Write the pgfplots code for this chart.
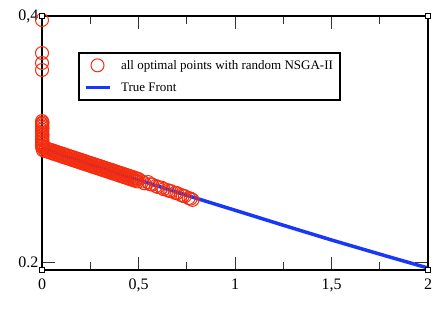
\documentclass[border=0pt]{standalone}
\usepackage{fontspec}
\setmainfont{Liberation Serif}
\usepackage{pgfplots}
\pgfplotsset{compat=1.18}
\definecolor{redc}{RGB}{245,45,15}
\definecolor{bluec}{RGB}{25,55,250}
\pgfplotsset{
  legA/.style={legend image code/.code={\draw[##1] plot coordinates {(12pt,0pt)};}},
  legB/.style={legend image code/.code={\draw[##1, line width=3pt] (0pt,0pt) -- (24pt,0pt);}},
}
\begin{document}
\begin{tikzpicture}
\path[use as bounding box] (-42pt,-38pt) rectangle (399pt,270pt);
\begin{axis}[
 at={(0pt,0pt)}, anchor=south west,
 scale only axis, width=386pt, height=254pt,
 xmin=0, xmax=2, ymin=0.1935, ymax=0.4,
 clip=false, axis on top,
 axis line style={line width=2.2pt},
 xtick={0,0.5,1,1.5,2}, xticklabels={0,{0,5},1,{1,5},2},
 minor xtick={0.25,0.75,1.25,1.75},
 ytick={0.2,0.4}, yticklabels={0.2,{0,4}},
 tick align=inside,
 major tick length=13pt, minor tick length=8pt,
 tick style={black!80, line width=0.8pt},
 ticklabel style={font=\fontsize{16}{16}\selectfont},
 xticklabel style={yshift=-5pt},
 /pgf/number format/assume math mode=true,
 legend style={at={(0.0933,0.858)}, anchor=north west, draw=black, line width=2pt,
   font=\fontsize{13}{15}\selectfont, inner xsep=5pt, inner ysep=5pt, row sep=8pt, column sep=8pt},
 legend cell align=left,
]
\addplot[only marks, mark=o, mark size=6.5pt, mark options={draw=redc, line width=1pt}, legA] coordinates {
(0,0.3967)(0,0.3699)(0,0.3618)(0,0.3561)
(0,0.3146)(0.003,0.3135)(0,0.3124)(0.002,0.3113)(0,0.3102)(0.003,0.3089)
(0,0.3076)(0.002,0.3063)(0,0.3050)(0.003,0.3037)(0,0.3024)(0.002,0.3011)(0,0.2998)(0.003,0.2985)
(0,0.2972)(0.002,0.2959)(0,0.2946)
(0.00,0.2935)(0.01,0.2930)(0.02,0.2925)(0.03,0.2919)(0.04,0.2914)(0.05,0.2909)(0.06,0.2904)
(0.07,0.2899)(0.08,0.2893)(0.09,0.2888)(0.10,0.2883)(0.11,0.2878)(0.12,0.2873)(0.13,0.2867)
(0.14,0.2862)(0.15,0.2857)(0.16,0.2852)(0.17,0.2847)(0.18,0.2841)(0.19,0.2836)(0.20,0.2831)
(0.21,0.2826)(0.22,0.2821)(0.23,0.2815)(0.24,0.2810)(0.25,0.2805)(0.26,0.2800)(0.27,0.2795)
(0.28,0.2789)(0.29,0.2784)(0.30,0.2779)(0.31,0.2774)(0.32,0.2769)(0.33,0.2763)(0.34,0.2758)
(0.35,0.2753)(0.36,0.2748)(0.37,0.2743)(0.38,0.2737)(0.39,0.2732)(0.40,0.2727)(0.41,0.2722)
(0.42,0.2717)(0.43,0.2711)(0.44,0.2706)(0.45,0.2701)(0.46,0.2696)(0.47,0.2691)(0.48,0.2685)
(0.49,0.2680)(0.50,0.2675)
(0.005,0.2909)(0.015,0.2904)(0.025,0.2899)(0.035,0.2894)(0.045,0.2889)(0.055,0.2883)
(0.065,0.2878)(0.075,0.2873)(0.085,0.2868)(0.095,0.2863)(0.105,0.2857)(0.115,0.2852)
(0.125,0.2847)(0.135,0.2842)(0.145,0.2837)(0.155,0.2831)(0.165,0.2826)(0.175,0.2821)
(0.185,0.2816)(0.195,0.2811)(0.205,0.2805)(0.215,0.2800)(0.225,0.2795)(0.235,0.2790)
(0.245,0.2785)(0.255,0.2779)(0.265,0.2774)(0.275,0.2769)(0.285,0.2764)(0.295,0.2759)
(0.305,0.2753)(0.315,0.2748)(0.325,0.2743)(0.335,0.2738)(0.345,0.2733)(0.355,0.2727)
(0.365,0.2722)(0.375,0.2717)(0.385,0.2712)(0.395,0.2707)(0.405,0.2701)(0.415,0.2696)
(0.425,0.2691)(0.435,0.2686)(0.445,0.2681)(0.455,0.2675)(0.465,0.2670)(0.475,0.2665)
(0.485,0.2660)(0.495,0.2655)
(0.52,0.2655)(0.53,0.2640)(0.55,0.2650)(0.56,0.2632)(0.57,0.2630)(0.59,0.2618)(0.60,0.2610)
(0.62,0.2605)(0.63,0.2592)(0.65,0.2585)(0.66,0.2578)(0.67,0.2575)(0.69,0.2562)(0.70,0.2560)
(0.72,0.2545)(0.73,0.2538)(0.74,0.2535)(0.76,0.2520)(0.77,0.2515)(0.78,0.2505)
};
\addlegendentry{all optimal points with random NSGA-II}
\addplot[bluec, line width=3.5pt, no marks, legB] coordinates {
(0,0.2927)(0.25,0.2795)(0.5,0.2667)(0.75,0.2542)(1,0.2421)(1.25,0.2299)(1.5,0.2179)(1.75,0.2064)(2,0.1951)
};
\addlegendentry{True Front}
\addplot[only marks, mark=square*, mark size=2.5pt, mark options={fill=white, draw=black, line width=1.2pt}, forget plot] coordinates {
(0,0.1935)(2,0.1935)(0,0.4)(2,0.4)
};
\end{axis}
\end{tikzpicture}
\end{document}
